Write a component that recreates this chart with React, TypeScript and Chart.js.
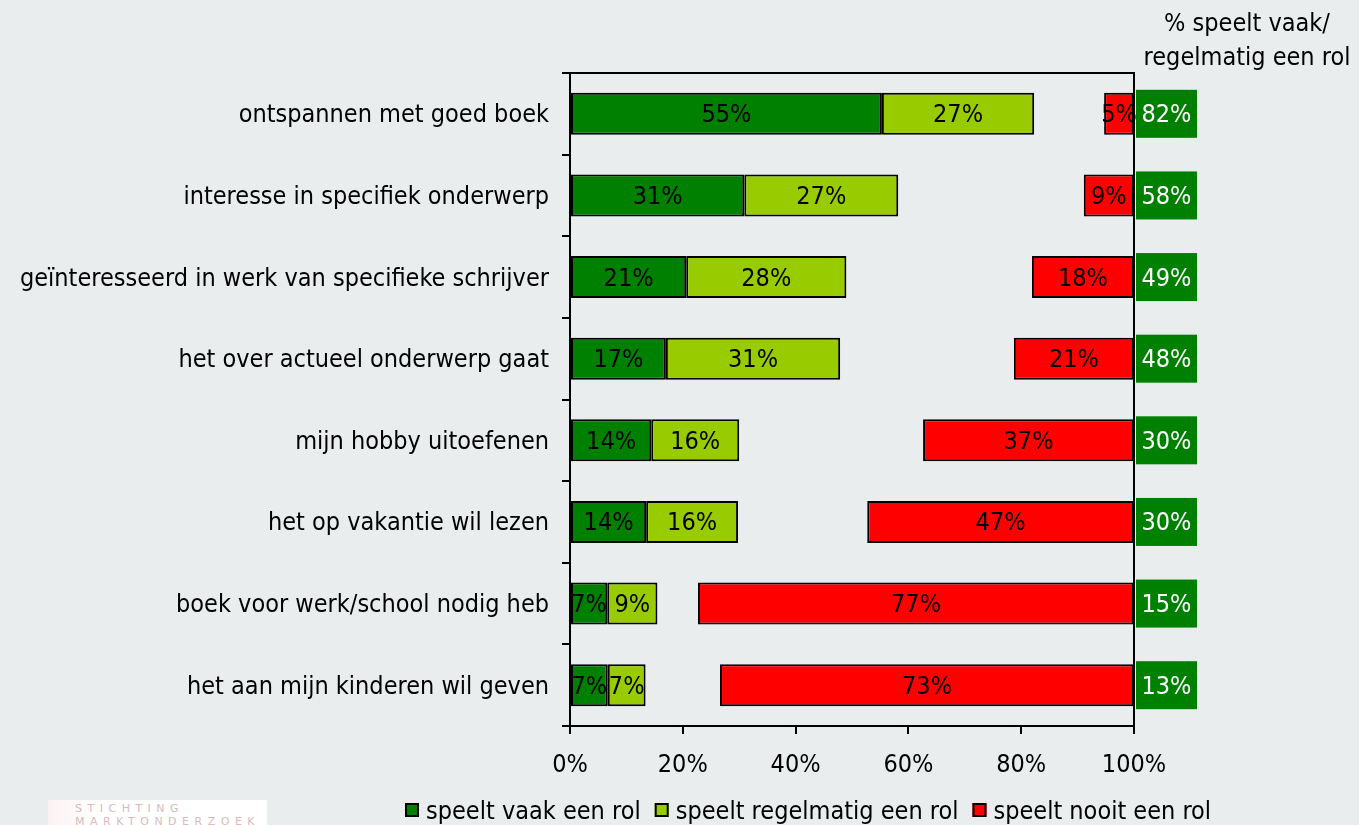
import React, { useEffect, useRef } from "react";
import { Chart, registerables } from "chart.js";

Chart.register(...registerables);

const categories = [
  "ontspannen met goed boek",
  "interesse in specifiek onderwerp",
  "geïnteresseerd in werk van specifieke schrijver",
  "het over actueel onderwerp gaat",
  "mijn hobby uitoefenen",
  "het op vakantie wil lezen",
  "boek voor werk/school nodig heb",
  "het aan mijn kinderen wil geven",
];
const vaak = [55.3, 30.9, 20.6, 17.0, 14.4, 13.5, 6.6, 6.7];
const regelmatig = [27.0, 27.3, 28.4, 30.9, 15.6, 16.3, 8.9, 6.7];
const nooit = [5.3, 8.9, 18.1, 21.3, 37.4, 47.3, 77.3, 73.4];
const totals = [82, 58, 49, 48, 30, 30, 15, 13];
const seriesNames = ["speelt vaak een rol", "speelt regelmatig een rol", "speelt nooit een rol"];
const seriesColors = ["#008000", "#99CC00", "#FF0000"];
const headerLines = ["% speelt vaak/", "regelmatig een rol"];

const FONT = "'DejaVu Sans Condensed', 'DejaVu Sans', sans-serif";
const FS = 25;
const BG = "#E9EDEE";

const extrasPlugin = {
  id: "extras",
  beforeDatasetsDraw(chart: any) {
    const { ctx, chartArea } = chart;
    ctx.save();
    ctx.strokeStyle = "#000";
    ctx.lineWidth = 2;
    ctx.beginPath();
    ctx.moveTo(chartArea.left, chartArea.top);
    ctx.lineTo(chartArea.right, chartArea.top);
    ctx.lineTo(chartArea.right, chartArea.bottom);
    ctx.stroke();
    ctx.restore();
  },
  afterDatasetsDraw(chart: any) {
    const { ctx, chartArea } = chart;
    const yScale = chart.scales.y;
    const values = [vaak, regelmatig, nooit];
    ctx.save();
    ctx.font = `${FS}px ${FONT}`;
    ctx.textAlign = "center";
    ctx.textBaseline = "middle";
    // bar labels
    chart.data.datasets.forEach((ds: any, di: number) => {
      const meta = chart.getDatasetMeta(di);
      meta.data.forEach((el: any, i: number) => {
        const cx = (el.x + el.base) / 2;
        ctx.fillStyle = "#000";
        ctx.fillText(Math.round(values[di][i]) + "%", cx, el.y + 2);
      });
    });
    // total boxes
    categories.forEach((_c, i) => {
      const y = yScale.getPixelForValue(i);
      ctx.fillStyle = "#008000";
      ctx.fillRect(chartArea.right + 2, y - 24, 61, 48);
      ctx.fillStyle = "#FFFFFF";
      ctx.fillText(totals[i] + "%", chartArea.right + 2 + 30.5, y + 2);
    });
    // header
    ctx.fillStyle = "#000";
    ctx.fillText(headerLines[0], 1247, 24);
    ctx.fillText(headerLines[1], 1247, 58);
    // legend
    ctx.textAlign = "left";
    let x = 405;
    const ly = 810;
    seriesNames.forEach((name, i) => {
      ctx.fillStyle = seriesColors[i];
      ctx.fillRect(x, ly - 7, 14, 14);
      ctx.strokeStyle = "#000";
      ctx.lineWidth = 2;
      ctx.strokeRect(x + 1, ly - 6, 12, 12);
      ctx.fillStyle = "#000";
      ctx.fillText(name, x + 21, ly + 2);
      x = x + 21 + ctx.measureText(name).width + 14;
    });
    ctx.restore();
  },
};

export default function App() {
  const ref = useRef<HTMLCanvasElement>(null);
  useEffect(() => {
    if (!ref.current) return;
    const chart = new Chart(ref.current, {
      type: "bar",
      data: {
        labels: categories,
        datasets: [
          {
            label: seriesNames[0],
            data: vaak.map((v) => [0, v]) as any,
            backgroundColor: seriesColors[0],
          },
          {
            label: seriesNames[1],
            data: vaak.map((v, i) => [v, v + regelmatig[i]]) as any,
            backgroundColor: seriesColors[1],
          },
          {
            label: seriesNames[2],
            data: nooit.map((v) => [100 - v, 100]) as any,
            backgroundColor: seriesColors[2],
          },
        ],
      },
      options: {
        indexAxis: "y",
        animation: false,
        responsive: true,
        maintainAspectRatio: false,
        layout: { padding: { top: 73, right: 225, bottom: 0, left: 0 } },
        datasets: {
          bar: {
            grouped: false,
            categoryPercentage: 1,
            barPercentage: 0.515,
            borderColor: "#000",
            borderWidth: 2,
            borderSkipped: false,
          } as any,
        },
        plugins: {
          legend: { display: false },
          tooltip: { enabled: false },
        },
        scales: {
          x: {
            min: 0,
            max: 100,
            afterFit: (s: any) => {
              s.height = 99;
            },
            ticks: {
              stepSize: 20,
              callback: (v: any) => v + "%",
              color: "#000",
              font: { family: FONT, size: FS },
              padding: 16,
            },
            grid: { drawOnChartArea: false, color: "#000", lineWidth: 2, tickLength: 8 },
            border: { color: "#000", width: 2 },
          },
          y: {
            afterFit: (s: any) => {
              s.width = 570;
            },
            ticks: {
              color: "#000",
              font: { family: FONT, size: FS },
              padding: 13,
              labelOffset: 2,
            },
            grid: { drawOnChartArea: false, color: "#000", lineWidth: 2, tickLength: 8, offset: true },
            border: { color: "#000", width: 2 },
          },
        },
      },
      plugins: [extrasPlugin],
    });
    return () => chart.destroy();
  }, []);

  return (
    <div style={{ position: "absolute", left: 0, top: 0, width: 1359, height: 825, background: BG, overflow: "hidden" }}>
      <canvas ref={ref} />
      <div
        style={{
          position: "absolute",
          left: 48,
          top: 800,
          width: 219,
          height: 30,
          background: "linear-gradient(90deg, #fbf3f3 0%, #ffffff 25%, #ffffff 100%)",
          fontFamily: "'DejaVu Sans', sans-serif",
          fontSize: 11,
          letterSpacing: 5.5,
          color: "#d6bcbc",
          lineHeight: "13px",
          paddingLeft: 27,
          paddingTop: 2,
          boxSizing: "border-box",
          whiteSpace: "nowrap",
        }}
      >
        <div>STICHTING</div>
        <div>MARKTONDERZOEK</div>
      </div>
    </div>
  );
}
